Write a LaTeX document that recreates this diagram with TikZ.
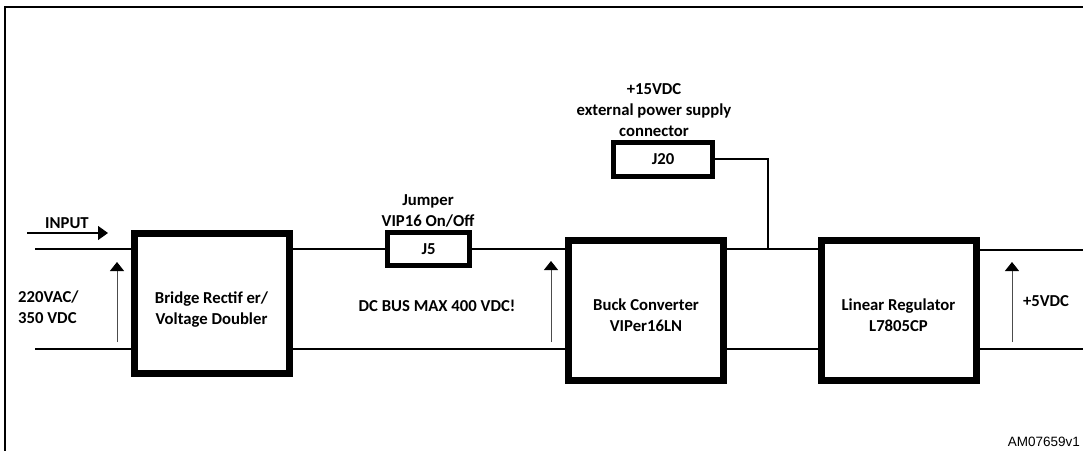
\documentclass[tikz,border=0pt]{standalone}
\usepackage{fontspec}
\setmainfont{Carlito}
\newfontfamily\arialf{Liberation Sans}
\usetikzlibrary{arrows.meta,calc}
\newcommand{\dnstrut}[1]{\rule{0pt}{#1}}
\begin{document}
\begin{tikzpicture}[x=1pt,y=-1pt,
  txt/.style={font=\fontsize{16.7}{21}\selectfont\bfseries,align=center,inner sep=0pt},
  bigbox/.style={txt,draw,line width=7pt,minimum width=155pt,minimum height=140pt},
  jbox/.style={txt,draw,line width=5pt},
  bus/.style={line width=1.4pt},
  varrow/.style={line width=1pt,draw=black!70,-{Triangle[length=9pt,width=14pt,color=black]}},
  harrow/.style={line width=1.4pt,-{Triangle[length=10pt,width=14pt]}}
]
\useasboundingbox (0,0) rectangle (1083,450);
% frame
\coordinate (fBL) at (5,451);
\coordinate (fTL) at (5,7);
\coordinate (fTR) at (1084,7);
\draw[line width=2pt] (fBL) -- (fTL) -- (fTR);

% blocks
\node[bigbox] (bridge) at (211.5,303) {\dnstrut{24.5pt}Bridge Rectif er/\\Voltage Doubler};
\node[bigbox] (buck) at (646,310.5) {\dnstrut{20.5pt}Buck Converter\\VIPer16LN};
\node[bigbox] (lin) at (898.5,310.5) {\dnstrut{20.5pt}Linear Regulator\\L7805CP};
\node[jbox,minimum width=82pt,minimum height=33pt] (J5) at (428.5,249) {J5};
\node[jbox,minimum width=99pt,minimum height=34pt] (J20) at (663,159) {J20};

% bus coordinates
\coordinate (inT) at (35,249);
\coordinate (inB) at (35,349);
\coordinate (jn) at (768,249);
\coordinate (jtop) at (768,159);
\coordinate (outT) at (1084,250);
\coordinate (outB) at (1084,349);

\draw[bus] (inT) -- (inT -| bridge.west);
\draw[bus] (inB) -- (inB -| bridge.west);
\draw[bus] (bridge.east |- inT) -- (J5.west);
\draw[bus] (J5.east) -- (buck.west |- J5.east);
\draw[bus] (bridge.east |- inB) -- (buck.west |- inB);
\draw[bus] (buck.east |- jn) -- (lin.west |- jn);
\draw[bus] (J20.east) -- (jtop) -- (jn);
\draw[bus] (buck.east |- inB) -- (lin.west |- inB);
\draw[bus] (lin.east |- outT) -- (outT);
\draw[bus] (lin.east |- outB) -- (outB);

% arrows
\coordinate (a1s) at (27,233);
\coordinate (a1e) at (108,233);
\draw[harrow] (a1s) -- (a1e);
\coordinate (v1s) at (117,342);
\coordinate (v1e) at (117,262);
\draw[varrow] (v1s) -- (v1e);
\coordinate (v2s) at (551,342);
\coordinate (v2e) at (551,261);
\draw[varrow] (v2s) -- (v2e);
\coordinate (v3s) at (1012,342);
\coordinate (v3e) at (1012,262);
\draw[varrow] (v3s) -- (v3e);

% labels
\node[txt] (linput) at (67,223) {INPUT};
\node[txt,align=left,anchor=west] (lvac) at (18,307.5) {220VAC/\\350 VDC};
\node[txt] (ldc) at (437,306) {DC BUS MAX 400 VDC!};
\node[txt] (ljump) at (428,211) {Jumper\\VIP16 On/Off};
\node[txt] (lext) at (654,110) {+15VDC\\external power supply\\connector};
\node[txt] (l5v) at (1046,301) {+5VDC};
\node[font=\arialf\fontsize{13.5}{16}\selectfont,anchor=east,inner sep=0pt] (lam) at (1080,442) {AM07659v1};
\end{tikzpicture}
\end{document}
